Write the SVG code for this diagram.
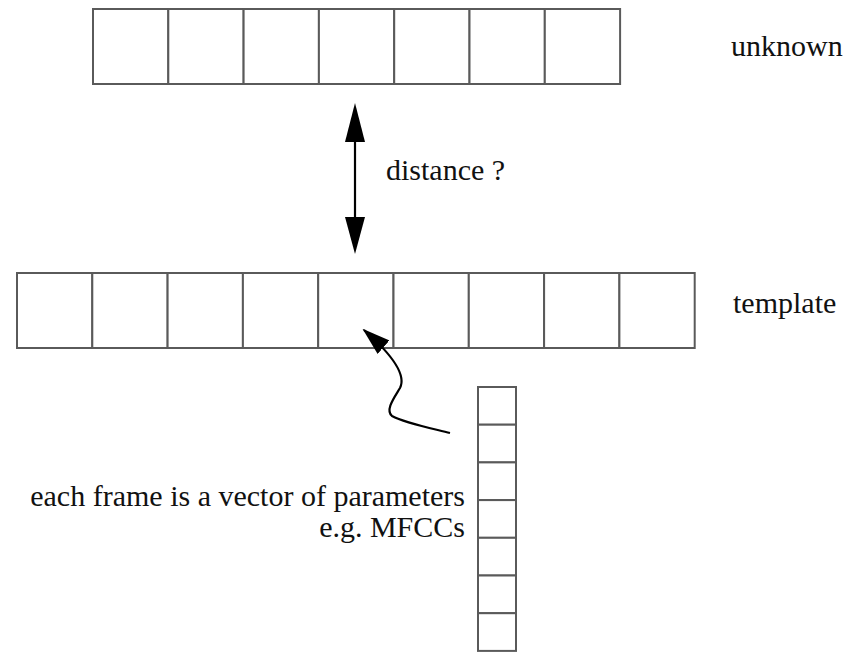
<svg xmlns="http://www.w3.org/2000/svg" width="845" height="652" viewBox="0 0 845 652">
  <defs>
    <style>
      .cell { fill: #ffffff; stroke: #5a5a5a; stroke-width: 2; }
      .lbl { font-family: "Liberation Serif", "Times New Roman", "DejaVu Serif", serif; font-size: 30px; fill: #111; }
      .wire { fill: none; stroke: #000; stroke-width: 2.2; }
    </style>
    <marker id="headS" viewBox="0 0 28 18" refX="26" refY="9" markerWidth="28" markerHeight="18" markerUnits="userSpaceOnUse" orient="auto">
      <path d="M0,0 L28,9 L0,18 Z" fill="#000"/>
    </marker>
  </defs>
  <rect width="845" height="652" fill="#ffffff"/>

  <!-- unknown sequence: 7 frames -->
  <g id="unknown">
    <rect class="cell" x="93" y="9" width="75.3" height="75"/>
    <rect class="cell" x="168.3" y="9" width="75.3" height="75"/>
    <rect class="cell" x="243.6" y="9" width="75.3" height="75"/>
    <rect class="cell" x="318.9" y="9" width="75.3" height="75"/>
    <rect class="cell" x="394.2" y="9" width="75.3" height="75"/>
    <rect class="cell" x="469.5" y="9" width="75.3" height="75"/>
    <rect class="cell" x="544.8" y="9" width="75.3" height="75"/>
    <text class="lbl" x="731" y="56">unknown</text>
  </g>

  <!-- template sequence: 9 frames -->
  <g id="template">
    <rect class="cell" x="17" y="273" width="75.3" height="75"/>
    <rect class="cell" x="92.3" y="273" width="75.3" height="75"/>
    <rect class="cell" x="167.6" y="273" width="75.3" height="75"/>
    <rect class="cell" x="242.9" y="273" width="75.3" height="75"/>
    <rect class="cell" x="318.2" y="273" width="75.3" height="75"/>
    <rect class="cell" x="393.5" y="273" width="75.3" height="75"/>
    <rect class="cell" x="468.8" y="273" width="75.3" height="75"/>
    <rect class="cell" x="544.1" y="273" width="75.3" height="75"/>
    <rect class="cell" x="619.4" y="273" width="75.3" height="75"/>
    <text class="lbl" x="733" y="313">template</text>
  </g>

  <!-- single frame: vector of parameters -->
  <g id="frame">
    <rect class="cell" x="478" y="387" width="38" height="37.7"/>
    <rect class="cell" x="478" y="424.7" width="38" height="37.7"/>
    <rect class="cell" x="478" y="462.4" width="38" height="37.7"/>
    <rect class="cell" x="478" y="500.1" width="38" height="37.7"/>
    <rect class="cell" x="478" y="537.8" width="38" height="37.7"/>
    <rect class="cell" x="478" y="575.5" width="38" height="37.7"/>
    <rect class="cell" x="478" y="613.2" width="38" height="37.7"/>
    <text class="lbl" x="465" y="506" text-anchor="end">each frame is a vector of parameters</text>
    <text class="lbl" x="465" y="537" text-anchor="end">e.g. MFCCs</text>
  </g>

  <!-- connectors -->
  <g id="connectors">
    <line class="wire" x1="355" y1="130" x2="355" y2="230"/>
    <path d="M345,142 L355,103 L365,142 Z" fill="#000"/>
    <path d="M345,217 L355,254 L365,217 Z" fill="#000"/>
    <path class="wire" d="M450,433 C430,428 405,423 392,416 C385,410 394,398 400,388 C406,376 396,358 364,330" marker-end="url(#headS)"/>
  </g>
  <text class="lbl" x="386" y="180">distance ?</text>
</svg>
